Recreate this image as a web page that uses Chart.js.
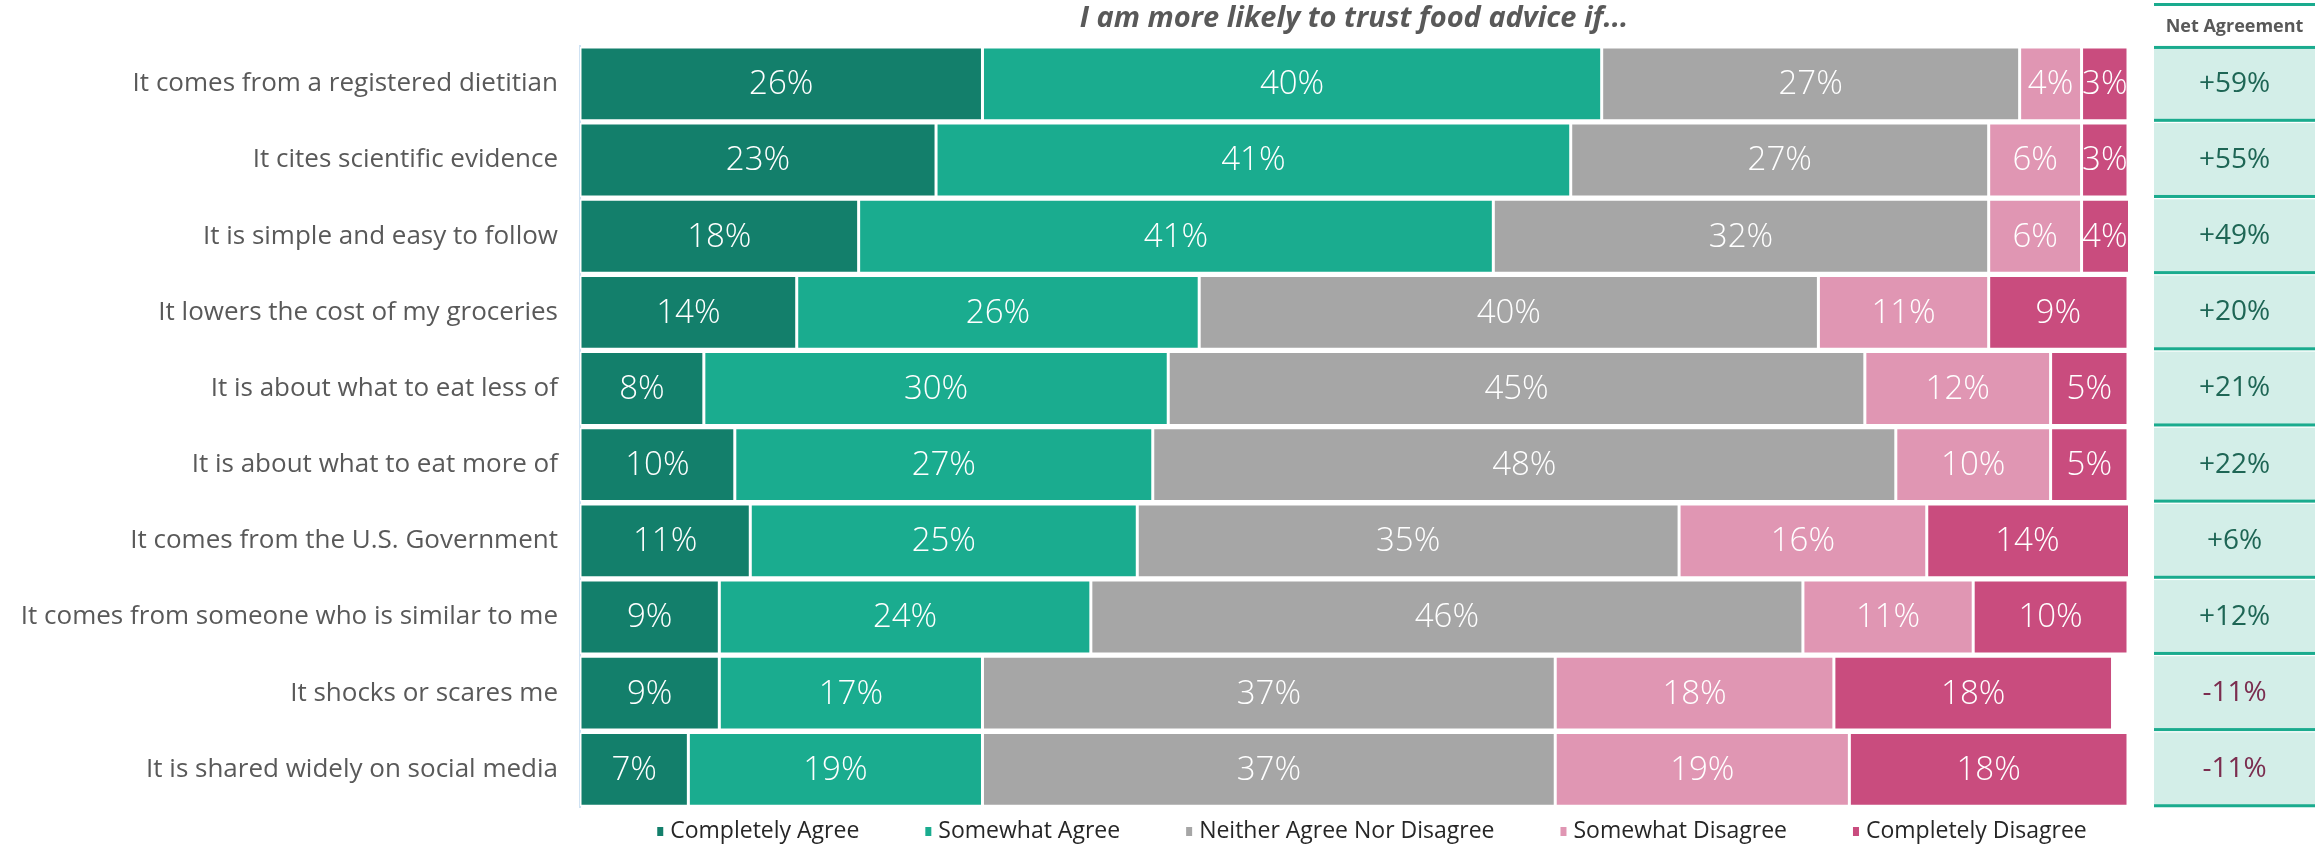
<!DOCTYPE html>
<html>
<head>
<meta charset="utf-8">
<title>Trust in food advice</title>
<script src="https://cdn.jsdelivr.net/npm/chart.js@4.4.1/dist/chart.umd.min.js"></script>
<style>
  html, body { margin: 0; padding: 0; background: #fff; }
  #wrap { width: 2315px; height: 845px; position: relative; }
</style>
</head>
<body>
<div id="wrap"><canvas id="trust"></canvas></div>
<script>
const statements = [
  'It comes from a registered dietitian',
  'It cites scientific evidence',
  'It is simple and easy to follow',
  'It lowers the cost of my groceries',
  'It is about what to eat less of',
  'It is about what to eat more of',
  'It comes from the U.S. Government',
  'It comes from someone who is similar to me',
  'It shocks or scares me',
  'It is shared widely on social media'
];
const completelyAgree    = [26, 23, 18, 14, 8, 10, 11, 9, 9, 7];
const somewhatAgree      = [40, 41, 41, 26, 30, 27, 25, 24, 17, 19];
const neitherAgree       = [27, 27, 32, 40, 45, 48, 35, 46, 37, 37];
const somewhatDisagree   = [4, 6, 6, 11, 12, 10, 16, 11, 18, 19];
const completelyDisagree = [3, 3, 4, 9, 5, 5, 14, 10, 18, 18];
const netAgreement       = [59, 55, 49, 20, 21, 22, 6, 12, -11, -11];

const seriesNames = ['Completely Agree', 'Somewhat Agree', 'Neither Agree Nor Disagree', 'Somewhat Disagree', 'Completely Disagree'];
const seriesColors = ['#137f6b', '#1aac8f', '#a6a6a6', '#e096b3', '#c94c7e'];
const seriesValues = [completelyAgree, somewhatAgree, neitherAgree, somewhatDisagree, completelyDisagree];

const FONT = "'Open Sans', 'Noto Sans', sans-serif";
const TEXT_GREY = '#595959';
const NET_LEFT = 2154;

// percentage written in the middle of every segment
const segmentLabels = {
  id: 'segmentLabels',
  afterDatasetsDraw(chart) {
    const ctx = chart.ctx;
    ctx.save();
    ctx.fillStyle = '#fff';
    ctx.font = '300 33px ' + FONT;
    ctx.textAlign = 'center';
    ctx.textBaseline = 'middle';
    chart.data.datasets.forEach((ds, di) => {
      chart.getDatasetMeta(di).data.forEach((bar, i) => {
        const cx = (Math.min(bar.x, chart.chartArea.right) + bar.base) / 2;
        ctx.fillText(ds.data[i] + '%', cx, bar.y + 1);
      });
    });
    ctx.restore();
  }
};

// "Net Agreement" column to the right of the bars
const netColumn = {
  id: 'netColumn',
  afterDraw(chart) {
    const ctx = chart.ctx;
    const y = chart.scales.y;
    const meta = chart.getDatasetMeta(0);
    const right = chart.width;
    ctx.save();
    ctx.fillStyle = '#1aab8e';
    ctx.fillRect(NET_LEFT, 3, right - NET_LEFT, 3);
    ctx.fillStyle = TEXT_GREY;
    ctx.font = 'bold 18px ' + FONT;
    ctx.textAlign = 'center';
    ctx.textBaseline = 'middle';
    const cx = (NET_LEFT + right) / 2;
    ctx.fillText('Net Agreement', cx, 27);
    netAgreement.forEach((v, i) => {
      const py = y.getPixelForValue(i);
      const h = meta.data[i].height;
      const top = py - h / 2;
      ctx.fillStyle = '#d3eee8';
      ctx.fillRect(NET_LEFT, top, right - NET_LEFT, h);
      ctx.fillStyle = '#1aab8e';
      if (i === 0) ctx.fillRect(NET_LEFT, top - 1, right - NET_LEFT, 3);
      ctx.fillRect(NET_LEFT, top + h - 2, right - NET_LEFT, 3);
      ctx.fillStyle = v < 0 ? '#7b2d4f' : '#1e6655';
      ctx.font = '28px ' + FONT;
      ctx.fillText((v > 0 ? '+' : '') + v + '%', cx, py);
    });
    ctx.restore();
  }
};

// legend row along the bottom
const bottomLegend = {
  id: 'bottomLegend',
  afterDraw(chart) {
    const ctx = chart.ctx;
    const area = chart.chartArea;
    ctx.save();
    ctx.font = '23px ' + FONT;
    ctx.textBaseline = 'middle';
    const marker = 6, gapText = 7, gapItem = 66;
    const widths = seriesNames.map(n => marker + gapText + ctx.measureText(n).width);
    const total = widths.reduce((a, b) => a + b, 0) + gapItem * (seriesNames.length - 1);
    let x = (area.left + area.right) / 2 + 18 - total / 2;
    const ly = 831;
    seriesNames.forEach((n, i) => {
      ctx.fillStyle = seriesColors[i];
      ctx.fillRect(x, ly - 4, marker, 9);
      ctx.fillStyle = '#262626';
      ctx.fillText(n, x + marker + gapText, ly);
      x += widths[i] + gapItem;
    });
    ctx.restore();
  }
};

new Chart(document.getElementById('trust'), {
  type: 'bar',
  data: {
    labels: statements,
    datasets: seriesNames.map((name, i) => ({
      label: name,
      data: seriesValues[i],
      backgroundColor: seriesColors[i],
      borderColor: '#ffffff',
      borderWidth: 1.5,
      borderSkipped: false,
      barPercentage: 0.97,
      categoryPercentage: 1
    }))
  },
  options: {
    indexAxis: 'y',
    responsive: true,
    maintainAspectRatio: false,
    animation: false,
    layout: { padding: { left: 0, right: 187, top: 0, bottom: 37 } },
    scales: {
      x: { stacked: true, min: 0, max: 100, display: false },
      y: {
        stacked: true,
        grid: { display: false, drawTicks: false },
        border: { display: true, color: '#cfe2f3', width: 2 },
        ticks: { color: TEXT_GREY, font: { family: FONT, size: 26 }, padding: 22 },
        afterFit(scale) { scale.width = 580; }
      }
    },
    plugins: {
      legend: { display: false },
      tooltip: { enabled: false },
      title: {
        display: true,
        fullSize: false,
        text: 'I am more likely to trust food advice if...',
        color: TEXT_GREY,
        font: { family: FONT, size: 29, weight: 'bold', style: 'italic' },
        padding: { top: 1, bottom: 10 }
      }
    }
  },
  plugins: [segmentLabels, netColumn, bottomLegend]
});
</script>
</body>
</html>
